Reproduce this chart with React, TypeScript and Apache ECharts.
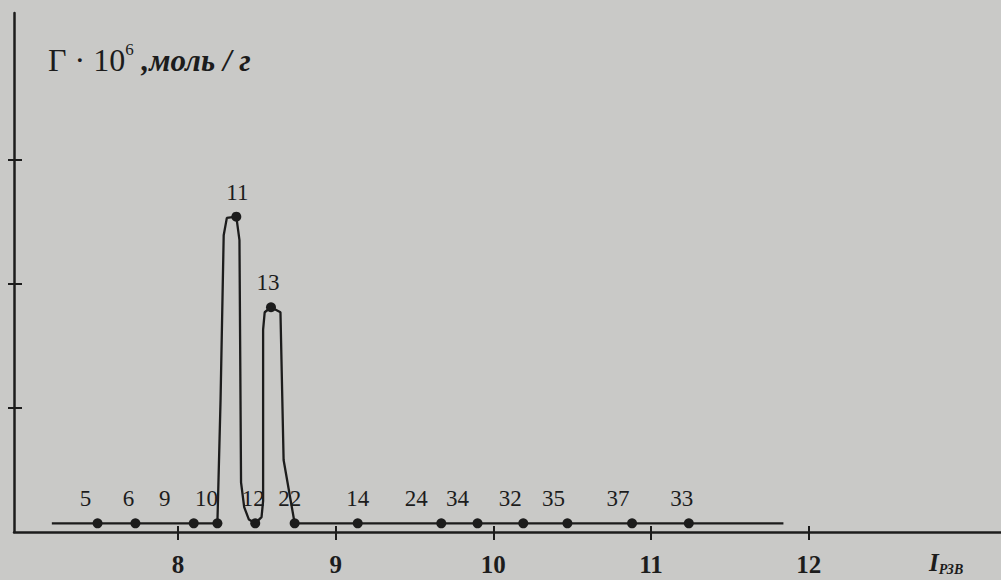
import React, { useEffect, useRef } from 'react';
import * as echarts from 'echarts';

// ---- data ----
const xTicks = [8, 9, 10, 11, 12];
const yTicks = [1, 2, 3];
// curve vertices in drawing order (x = I, y = Γ·10^6); labelled vertices are the numbered samples
const curveX = [7.2, 7.49, 7.73, 8.1, 8.25, 8.27, 8.29, 8.31, 8.37, 8.39, 8.4, 8.42, 8.45, 8.49, 8.53, 8.54, 8.54, 8.55, 8.59, 8.65, 8.67, 8.74, 9.14, 9.67, 9.9, 10.19, 10.47, 10.88, 11.24, 11.84];
const curveY = [0.07, 0.07, 0.07, 0.07, 0.07, 1.06, 2.39, 2.53, 2.54, 2.35, 0.4, 0.2, 0.1, 0.07, 0.12, 0.25, 1.63, 1.77, 1.81, 1.77, 0.58, 0.07, 0.07, 0.07, 0.07, 0.07, 0.07, 0.07, 0.07, 0.07];
const pointLabels = ['', '5', '6', '9', '10', '', '', '', '11', '', '', '', '', '12', '', '', '', '', '13', '', '', '22', '14', '24', '34', '32', '35', '37', '33', ''];
const yTitleMain = 'Γ · 10';
const yTitleSup = '6';
const yTitleUnit = ' ,моль / г';
const xTitleMain = 'I';
const xTitleSub = 'РЗВ';

// ---- styling ----
const INK = '#1c1c1c';
const BG = '#c9c9c7';
const FONT = '"Liberation Serif", "DejaVu Serif", serif';
const labelNudge: Record<string, number> = {
  '5': -12, '6': -7, '9': -29, '10': -11, '11': 1, '12': -2, '13': -3, '22': -5,
  '14': 0, '24': -25, '34': -20, '32': -13, '35': -14, '37': -14, '33': -7,
};

export default function App() {
  const ref = useRef<HTMLDivElement>(null);
  useEffect(() => {
    document.body.style.margin = '0';
    document.body.style.background = BG;
    const chart = echarts.init(ref.current!, null, { renderer: 'svg' });
    const data = curveX.map((x, i) => {
      const lab = pointLabels[i];
      return {
        value: [x, curveY[i]],
        symbol: lab ? 'circle' : 'none',
        label: {
          show: !!lab,
          formatter: lab,
          offset: [labelNudge[lab] || 0, 0],
        },
      };
    });
    const xBase = {
      type: 'value' as const,
      min: 6.96,
      max: 13.22,
      splitLine: { show: false },
      position: 'bottom' as const,
    };
    const yBase = {
      type: 'value' as const,
      min: 0,
      max: 4.18,
      splitLine: { show: false },
      position: 'left' as const,
    };
    chart.setOption({
      animation: false,
      backgroundColor: BG,
      grid: { left: 14, right: 0, top: 13, bottom: 48 },
      xAxis: [
        {
          ...xBase,
          offset: 0,
          axisLine: { show: true, onZero: false, lineStyle: { color: INK, width: 2.5 } },
          axisTick: { show: false },
          axisLabel: {
            show: true,
            customValues: xTicks,
            margin: 20,
            color: INK,
            fontFamily: FONT,
            fontSize: 25,
            fontWeight: 'bold',
          },
        },
        {
          ...xBase,
          offset: -6,
          axisLine: { show: false, onZero: false },
          axisTick: { show: true, customValues: xTicks, length: 14, lineStyle: { color: INK, width: 2 } },
          axisLabel: { show: false, customValues: xTicks },
        },
      ],
      yAxis: [
        {
          ...yBase,
          offset: 0,
          axisLine: { show: true, onZero: false, lineStyle: { color: INK, width: 2.5 } },
          axisTick: { show: false },
          axisLabel: { show: false },
        },
        {
          ...yBase,
          offset: -8,
          axisLine: { show: false, onZero: false },
          axisTick: { show: true, customValues: yTicks, length: 14, lineStyle: { color: INK, width: 2 } },
          axisLabel: { show: false, customValues: yTicks },
        },
      ],
      series: [
        {
          type: 'line',
          xAxisIndex: 0,
          yAxisIndex: 0,
          data,
          symbolSize: 10,
          lineStyle: { color: INK, width: 2.3 },
          itemStyle: { color: INK },
          label: {
            position: 'top',
            distance: 8,
            color: INK,
            fontFamily: FONT,
            fontSize: 23,
          },
        },
        {
          type: 'line',
          xAxisIndex: 1,
          yAxisIndex: 1,
          data: [],
          silent: true,
        },
      ],
      graphic: [
        {
          type: 'text',
          left: 48,
          top: 41,
          style: {
            text: `{m|${yTitleMain}}{s|${yTitleSup}}{u|${yTitleUnit}}`,
            fill: INK,
            rich: {
              m: { fontFamily: FONT, fontSize: 32, fill: INK, lineHeight: 38 },
              s: { fontFamily: FONT, fontSize: 17, fill: INK, verticalAlign: 'top', lineHeight: 38 },
              u: { fontFamily: FONT, fontSize: 31, fontStyle: 'italic', fontWeight: 'bold', fill: INK, lineHeight: 38 },
            },
          },
        },
        {
          type: 'text',
          left: 929,
          top: 550,
          style: {
            text: `{m|${xTitleMain}}{s|${xTitleSub}}`,
            fill: INK,
            rich: {
              m: { fontFamily: FONT, fontSize: 25, fontStyle: 'italic', fontWeight: 'bold', fill: INK, lineHeight: 28 },
              s: { fontFamily: FONT, fontSize: 14, fontStyle: 'italic', fontWeight: 'bold', fill: INK, verticalAlign: 'bottom', lineHeight: 28 },
            },
          },
        },
      ],
    });
    return () => chart.dispose();
  }, []);
  return <div ref={ref} style={{ position: 'absolute', left: 0, top: 0, width: 1001, height: 580 }} />;
}
